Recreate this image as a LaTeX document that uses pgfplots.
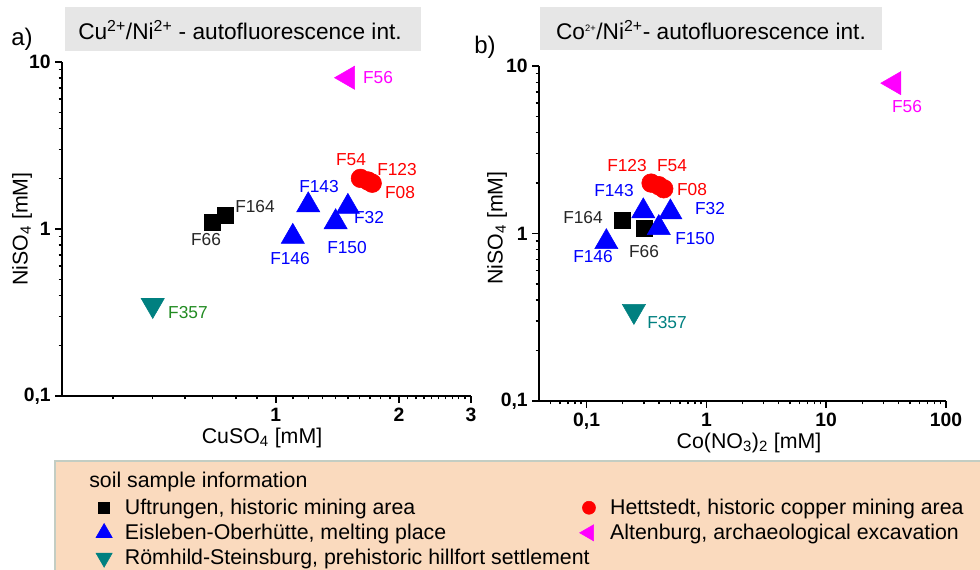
\documentclass[border=0pt]{standalone}
\usepackage{pgfplots}
\pgfplotsset{compat=1.18}
\usepackage{fontspec}
\setmainfont{Liberation Sans}

\definecolor{titlegray}{RGB}{230,230,230}
\definecolor{legbeige}{RGB}{250,218,190}
\definecolor{legborder}{RGB}{195,205,195}
\definecolor{cteal}{RGB}{0,128,128}
\definecolor{cgreen}{RGB}{34,139,34}
\definecolor{cmag}{RGB}{255,0,255}
\definecolor{cblue}{RGB}{0,0,255}
\definecolor{cred}{RGB}{255,0,0}

\begin{document}
\begin{tikzpicture}
\useasboundingbox (0,0) rectangle (735pt,426.75pt);

% boxes behind the plots
\begin{scope}[x=0.75pt,y=-0.75pt,yshift=426.75pt]
\fill[titlegray] (65,7) rectangle (421,51);
\fill[titlegray] (540,7) rectangle (882,50);
\filldraw[fill=legbeige, draw=legborder, line width=0.8pt] (55,461) rectangle (995,580);
\end{scope}

% a) CuSO4 vs NiSO4
\begin{axis}[
    scale only axis,
    at={(46.5pt,129.75pt)}, anchor=south west,
    width=306.75pt, height=250.5pt,
    xmode=log, ymode=log,
    axis lines*=left,
    axis line style={line width=1.4pt},
    tick align=outside,
    major tick length=5pt,
    minor tick length=2.6pt,
    tick style={line width=1.1pt, black},
    xmin=0.3, xmax=3,
    ymin=0.1, ymax=10,
    xtick={1,2,3}, xticklabels={1,2,3},
    minor xtick={0.4,0.5,0.6,0.7,0.8,0.9,1.1,1.2,1.3,1.4,1.5,1.6,1.7,1.8,1.9,2.1,2.2,2.3,2.4,2.5,2.6,2.7,2.8,2.9},
    ytick={0.1,1,10}, yticklabels={{0,1},1,10},
    minor ytick={0.2,0.3,0.4,0.5,0.6,0.7,0.8,0.9,2,3,4,5,6,7,8,9},
    tick label style={font=\fontsize{14.5}{17}\selectfont\bfseries},
    xticklabel style={inner sep=0pt, yshift=-4pt},
    clip=false,
]
\addplot[only marks, mark=square*, mark size=6pt, black] coordinates {(0.70,1.10) (0.753,1.21)};
\addplot[only marks, mark=triangle*, mark size=10pt, cblue] coordinates {(1.20,1.39) (1.50,1.36) (1.40,1.10) (1.10,0.90)};
\addplot[only marks, mark=triangle*, mark size=10pt, cteal, mark options={rotate=180}] coordinates {(0.50,0.35)};
\addplot[only marks, mark=*, mark size=7pt, cred] coordinates {(1.61,2.01) (1.68,1.94) (1.72,1.88)};
\addplot[only marks, mark=triangle*, mark size=10pt, cmag, mark options={rotate=90}] coordinates {(1.50,8.05)};
\end{axis}

% b) Co(NO3)2 vs NiSO4
\begin{axis}[
    scale only axis,
    at={(404.25pt,126pt)}, anchor=south west,
    width=305.25pt, height=251.25pt,
    xmode=log, ymode=log,
    axis lines*=left,
    axis line style={line width=1.4pt},
    tick align=outside,
    major tick length=5pt,
    minor tick length=2.6pt,
    tick style={line width=1.1pt, black},
    xmin=0.04, xmax=100,
    ymin=0.1, ymax=10,
    xtick={0.1,1,10,100}, xticklabels={{0,1},1,10,100},
    minor xtick={0.05,0.06,0.07,0.08,0.09,0.2,0.3,0.4,0.5,0.6,0.7,0.8,0.9,2,3,4,5,6,7,8,9,20,30,40,50,60,70,80,90},
    ytick={0.1,1,10}, yticklabels={{0,1},1,10},
    minor ytick={0.2,0.3,0.4,0.5,0.6,0.7,0.8,0.9,2,3,4,5,6,7,8,9},
    tick label style={font=\fontsize{14.5}{17}\selectfont\bfseries},
    xticklabel style={inner sep=0pt, yshift=-4pt},
    clip=false,
    legend columns=2,
    legend cell align=left,
    legend style={at={(axis description cs:-1.089,-0.285)}, anchor=north west,
      draw=none, fill=none, inner xsep=0pt, inner ysep=0pt,
      font=\fontsize{16}{18}\selectfont,
      nodes={inner sep=0pt, text height=13pt, text depth=3.5pt},
      row sep=2.3pt,
      /tikz/column 1/.style={column sep=9.5pt},
      /tikz/column 2/.style={column sep=-7.5pt},
      /tikz/column 3/.style={column sep=11pt}},
    legend image post style={scale=0.7},
]
\addplot[only marks, mark=square*, mark size=6pt, black] coordinates {(0.20,1.20) (0.30,1.08)};
\addlegendentry{Uftrungen, historic mining area}
\addplot[only marks, mark=*, mark size=7pt, cred] coordinates {(0.345,2.0) (0.40,1.93) (0.44,1.85)};
\addlegendentry{Hettstedt, historic copper mining area}
\addplot[only marks, mark=triangle*, mark size=10pt, cblue] coordinates {(0.297,1.36) (0.50,1.34) (0.40,1.08) (0.146,0.89)};
\addlegendentry{Eisleben-Oberhütte, melting place}
\addplot[only marks, mark=triangle*, mark size=10pt, cmag, mark options={rotate=90}] coordinates {(36.9,7.9)};
\addlegendentry{Altenburg, archaeological excavation}
\addplot[only marks, mark=triangle*, mark size=10pt, cteal, mark options={rotate=180}] coordinates {(0.248,0.344)};
\addlegendentry{Römhild-Steinsburg, prehistoric hillfort settlement}
\end{axis}

% texts
\begin{scope}[x=0.75pt,y=-0.75pt,yshift=426.75pt, lab/.style={font=\fontsize{13}{15}\selectfont, inner sep=0pt}]
\node[font=\fontsize{18}{21}\selectfont] at (22,39) {a)};
\node[font=\fontsize{18}{21}\selectfont] at (485,47) {b)};
\node[font=\fontsize{17}{20}\selectfont] at (240,30) {Cu\textsuperscript{2+}/Ni\textsuperscript{2+} - autofluorescence int.};
\node[font=\fontsize{17}{20}\selectfont] at (711,30) {Co\textsuperscript{\scriptsize 2+}/Ni\textsuperscript{2+}- autofluorescence int.};
\node[font=\fontsize{16}{18}\selectfont, rotate=90] at (22,229) {NiSO\textsubscript{4} [mM]};
\node[font=\fontsize{16}{18}\selectfont, rotate=90] at (497,228) {NiSO\textsubscript{4} [mM]};
\node[font=\fontsize{16}{18}\selectfont] at (262,438) {CuSO\textsubscript{4} [mM]};
\node[font=\fontsize{16}{18}\selectfont] at (749,443) {Co(NO\textsubscript{3})\textsubscript{2} [mM]};
% point labels, a)
\node[lab, cmag] at (378,78) {F56};
\node[lab, cred] at (351,160) {F54};
\node[lab, cred] at (397,170) {F123};
\node[lab, cred] at (400,193) {F08};
\node[lab, cblue] at (319,187) {F143};
\node[lab, cblue] at (369,218) {F32};
\node[lab, cblue] at (290,259) {F146};
\node[lab, cblue] at (347,248) {F150};
\node[lab, black!85] at (255,207) {F164};
\node[lab, black!85] at (206,240) {F66};
\node[lab, cgreen] at (188,313) {F357};
% point labels, b)
\node[lab, cmag] at (907,107) {F56};
\node[lab, cred] at (627,166) {F123};
\node[lab, cred] at (672,166) {F54};
\node[lab, cred] at (692,190) {F08};
\node[lab, cblue] at (614,191) {F143};
\node[lab, cblue] at (710,209) {F32};
\node[lab, cblue] at (695,239) {F150};
\node[lab, cblue] at (593,257) {F146};
\node[lab, black!85] at (583,218) {F164};
\node[lab, black!85] at (644,252) {F66};
\node[lab, cteal] at (667,323) {F357};
% legend heading
\node[font=\fontsize{16}{18}\selectfont, anchor=west, inner sep=0pt] at (89,482) {soil sample information};
\end{scope}
\end{tikzpicture}
\end{document}
